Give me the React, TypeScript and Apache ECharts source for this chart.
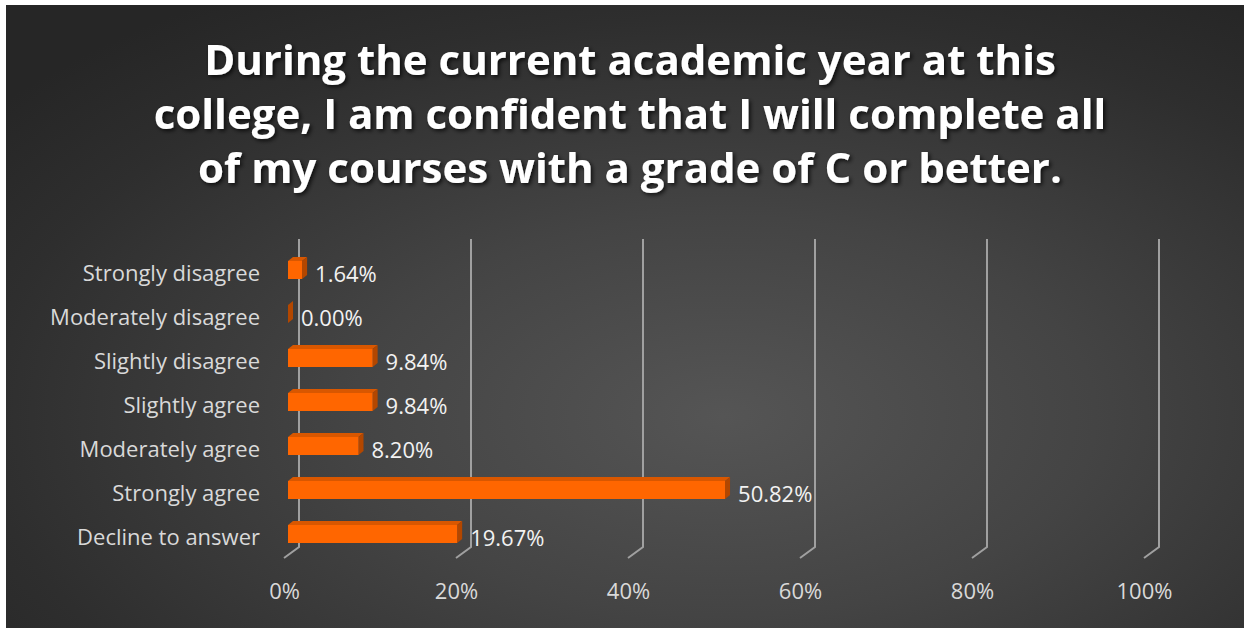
import React, { useEffect, useRef } from "react";
import * as echarts from "echarts";

const titleLines = [
  "During the current academic year at this",
  "college, I am confident that I will complete all",
  "of my courses with a grade of C or better.",
];
const categories = [
  "Strongly disagree",
  "Moderately disagree",
  "Slightly disagree",
  "Slightly agree",
  "Moderately agree",
  "Strongly agree",
  "Decline to answer",
];
const values = [1.64, 0.0, 9.84, 9.84, 8.2, 50.82, 19.67];
const xTicks = [0, 20, 40, 60, 80, 100];

const FONT = "'Open Sans', 'Noto Sans', sans-serif";

export default function App() {
  const ref = useRef<HTMLDivElement>(null);

  useEffect(() => {
    document.body.style.margin = "0";
    if (!ref.current) return;
    const chart = echarts.init(ref.current, null, { renderer: "svg" });

    const DX = 5; // bar depth x
    const DY = 4; // bar depth y

    const option: any = {
      animation: false,
      backgroundColor: "transparent",
      title: {
        text: titleLines.join("\n"),
        left: 625,
        textAlign: "center",
        top: 26,
        textStyle: {
          color: "#ffffff",
          fontFamily: FONT,
          fontWeight: "bold",
          fontSize: 42,
          lineHeight: 54,
          textShadowColor: "rgba(0,0,0,0.75)",
          textShadowBlur: 4,
          textShadowOffsetX: 2,
          textShadowOffsetY: 2,
        },
      },
      grid: { left: 288, right: 96, top: 250, bottom: 70, containLabel: false },
      xAxis: {
        type: "value",
        min: 0,
        max: 100,
        interval: 20,
        axisLine: { show: false },
        axisTick: { show: false },
        splitLine: { show: false },
        axisLabel: {
          formatter: "{value}%",
          color: "#D9D9D9",
          fontFamily: FONT,
          fontSize: 22,
          margin: 21,
          padding: [0, 7, 0, 0],
        },
      },
      yAxis: {
        type: "category",
        inverse: true,
        data: categories,
        axisLine: { show: false },
        axisTick: { show: false },
        splitLine: { show: false },
        axisLabel: {
          color: "#D9D9D9",
          fontFamily: FONT,
          fontSize: 22,
          margin: 28,
        },
      },
      series: [
        {
          type: "custom",
          name: "grid",
          silent: true,
          z: 1,
          data: xTicks.map((t) => [t, 0]),
          encode: { x: 0, y: 1 },
          renderItem: (params: any, api: any) => {
            const cs = params.coordSys;
            const x = api.coord([api.value(0), 0])[0];
            const top = cs.y;
            const bottom = cs.y + cs.height;
            return {
              type: "polyline",
              shape: {
                points: [
                  [x + 11, top - 11],
                  [x + 11, bottom - 11],
                  [x - 4, bottom],
                ],
              },
              style: { stroke: "#A0A0A0", lineWidth: 2, fill: "none" },
            };
          },
        },
        {
          type: "custom",
          name: "bars",
          z: 3,
          data: values.map((v, i) => [v, i]),
          encode: { x: 0, y: 1 },
          renderItem: (params: any, api: any) => {
            const v = api.value(0);
            const idx = api.value(1);
            const p0 = api.coord([0, idx]);
            const p1 = api.coord([v, idx]);
            const c = p0[1];
            const x0 = p0[0];
            const x1 = p1[0];
            const yt = c - 11;
            const yb = c + 7;
            return {
              type: "group",
              children: [
                {
                  type: "polygon",
                  shape: {
                    points: [
                      [x0, yt],
                      [x0 + DX, yt - DY],
                      [x1 + DX, yt - DY],
                      [x1, yt],
                    ],
                  },
                  style: { fill: "#D95700" },
                },
                {
                  type: "polygon",
                  shape: {
                    points: [
                      [x1, yt],
                      [x1 + DX, yt - DY],
                      [x1 + DX, yb - DY],
                      [x1, yb],
                    ],
                  },
                  style: { fill: "#B34700" },
                },
                {
                  type: "rect",
                  shape: { x: x0, y: yt, width: x1 - x0, height: yb - yt },
                  style: { fill: "#FF6600" },
                },
                {
                  type: "text",
                  style: {
                    text: v.toFixed(2) + "%",
                    x: x1 + 13,
                    y: c + 1,
                    verticalAlign: "middle",
                    align: "left",
                    fill: "#F2F2F2",
                    font: `22px ${FONT}`,
                  },
                },
              ],
            };
          },
        },
      ],
    };

    chart.setOption(option);
    return () => chart.dispose();
  }, []);

  return (
    <div
      style={{
        position: "absolute",
        left: 0,
        top: 0,
        width: 1244,
        height: 628,
        background: "#ffffff",
        overflow: "hidden",
      }}
    >
      <div
        style={{
          position: "absolute",
          left: 6,
          top: 5,
          width: 1238,
          height: 623,
          background:
            "radial-gradient(ellipse 75% 80% at 58% 66%, #555555 0%, #444444 40%, #2e2e2e 80%, #262626 100%)",
        }}
      />
      <div
        ref={ref}
        style={{ position: "absolute", left: 0, top: 0, width: 1244, height: 628 }}
      />
    </div>
  );
}
